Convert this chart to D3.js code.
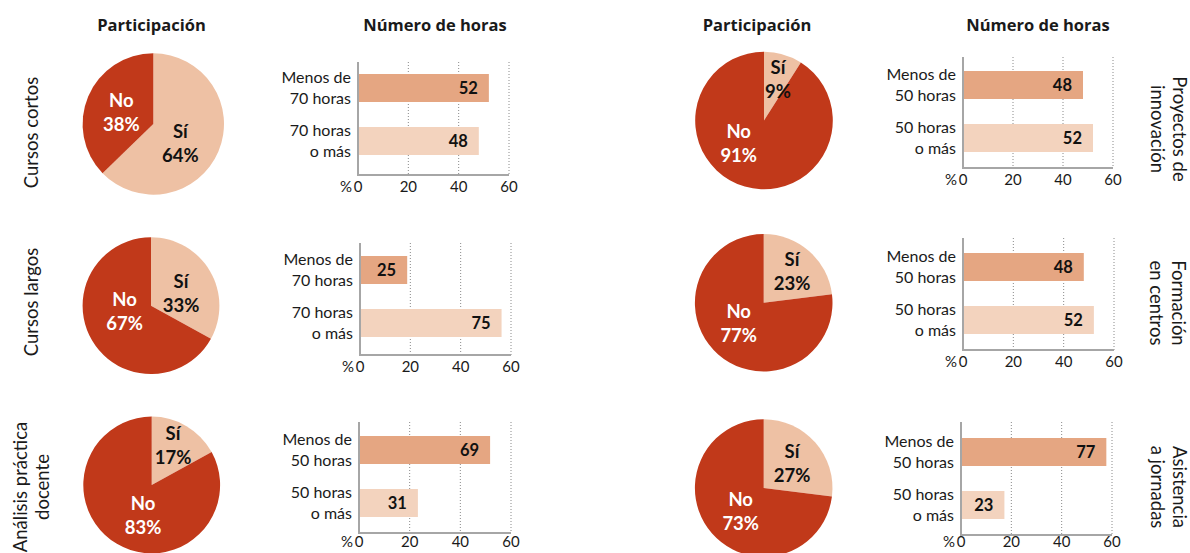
<!DOCTYPE html>
<html>
<head>
<meta charset="utf-8">
<script src="https://cdn.jsdelivr.net/npm/d3@7"></script>
<style>
  html, body { margin: 0; padding: 0; background: #fff; }
  svg { display: block; }
  text { font-family: Lato, "Open Sans", sans-serif; }
</style>
</head>
<body>
<svg id="chart" width="1190" height="553"></svg>
<script>
// ---------------- DATA ----------------
const columnTitles = ["Participación", "Número de horas"];
const rowLabels = [
  ["Cursos cortos"],
  ["Cursos largos"],
  ["Análisis práctica", "docente"],
  ["Proyectos de", "innovación"],
  ["Formación", "en centros"],
  ["Asistencia", "a jornadas"]
];
const siPct = [64, 33, 17, 9, 23, 27];
const noPct = [38, 67, 83, 91, 77, 73];
const hourCats = [
  [["Menos de", "70 horas"], ["70 horas", "o más"]],
  [["Menos de", "70 horas"], ["70 horas", "o más"]],
  [["Menos de", "50 horas"], ["50 horas", "o más"]],
  [["Menos de", "50 horas"], ["50 horas", "o más"]],
  [["Menos de", "50 horas"], ["50 horas", "o más"]],
  [["Menos de", "50 horas"], ["50 horas", "o más"]]
];
const lessHours = [52, 25, 69, 48, 48, 77];
const moreHours = [48, 75, 31, 52, 52, 23];
const xTicks = [0, 20, 40, 60];

// ---------------- LAYOUT ----------------
const pieLayout = [
  {cx: 153.3, cy: 124, r: 70.7},
  {cx: 151, cy: 305.7, r: 68.4},
  {cx: 151.7, cy: 485, r: 68.4},
  {cx: 764, cy: 120.5, r: 68.8},
  {cx: 763.7, cy: 302.8, r: 68.8},
  {cx: 763.7, cy: 488, r: 68.8}
];
// label centres relative to the pie centre: [Sí, No]
const pieLabelOffsets = [
  [[27, 19.3], [-32, -12]],
  [[30, -12.5], [-26.5, 6]],
  [[21.3, -39.2], [-8.7, 30.8]],
  [[14, -41.3], [-25.3, 23.3]],
  [[28.3, -31.3], [-25, 21]],
  [[28.3, -24.7], [-23, 23.7]]
];
// bar panels; domainMax = value that reaches the axis end (labelled 60) as drawn in the picture
const barLayout = [
  {x0: 358, x60: 509, top: 62, bottom: 175, bar1: 74, domainMax: 60},
  {x0: 360, x60: 511, top: 243, bottom: 355, bar1: 256, domainMax: 80},
  {x0: 359, x60: 511, top: 422, bottom: 533, bar1: 436, domainMax: 80},
  {x0: 963, x60: 1113, top: 57, bottom: 168, bar1: 71, domainMax: 60},
  {x0: 963, x60: 1114, top: 238, bottom: 350, bar1: 253, domainMax: 60},
  {x0: 961, x60: 1112, top: 422, bottom: 535, bar1: 438, domainMax: 80}
];
const rowLabelLayout = [
  {y: 132.5, xs: [38], rot: -90},
  {y: 302, xs: [38], rot: -90},
  {y: 487, xs: [27, 49], rot: -90},
  {y: 129, xs: [1173, 1151], rot: 90},
  {y: 303, xs: [1172, 1150], rot: 90},
  {y: 487, xs: [1173, 1151], rot: 90}
];
const titleLayout = [
  {x: 151.5, y: 31, t: 0}, {x: 435, y: 31, t: 1},
  {x: 757, y: 31, t: 0}, {x: 1038, y: 31, t: 1}
];

const colors = {
  no: "#c1391a",
  si: "#eec1a4",
  less: "#e5a682",
  more: "#f3d3be",
  axis: "#a6a6a6",
  grid: "#8a8a8a",
  text: "#1a1a1a"
};

const svg = d3.select("#chart");

// titles
svg.selectAll("text.title").data(titleLayout).join("text")
  .attr("class", "title")
  .attr("x", d => d.x).attr("y", d => d.y)
  .attr("text-anchor", "middle")
  .style("font-family", "'Open Sans', Lato, sans-serif")
  .attr("font-weight", 700)
  .attr("font-size", 16.5)
  .attr("fill", colors.text)
  .text(d => columnTitles[d.t]);

// row labels
rowLabelLayout.forEach((L, i) => {
  rowLabels[i].forEach((line, j) => {
    svg.append("text")
      .attr("transform", `translate(${L.xs[j]},${L.y}) rotate(${L.rot})`)
      .attr("text-anchor", "middle")
      .attr("font-size", 18.5)
      .attr("fill", colors.text)
      .text(line);
  });
});

// pies
const pie = d3.pie().sort(null).value(d => d.v);
pieLayout.forEach((P, i) => {
  const g = svg.append("g").attr("transform", `translate(${P.cx},${P.cy})`);
  const arc = d3.arc().innerRadius(0).outerRadius(P.r);
  const slices = pie([
    {k: "Sí", v: siPct[i], fill: colors.si, tc: "#111"},
    {k: "No", v: noPct[i], fill: colors.no, tc: "#fff"}
  ]);
  g.selectAll("path").data(slices).join("path")
    .attr("d", arc)
    .attr("fill", d => d.data.fill);
  slices.forEach((s, j) => {
    const off = pieLabelOffsets[i][j];
    const lines = [s.data.k, s.data.v + "%"];
    lines.forEach((ln, m) => {
      g.append("text")
        .attr("x", off[0])
        .attr("y", off[1] + (m === 0 ? -12 : 12) + 6.5)
        .attr("text-anchor", "middle")
        .attr("font-weight", 700)
        .attr("font-size", 18.5)
        .attr("fill", s.data.tc)
        .text(ln);
    });
  });
});

// bar panels
barLayout.forEach((B, i) => {
  const g = svg.append("g");
  const axisX = d3.scaleLinear().domain([0, 60]).range([B.x0, B.x60]);
  const barX = d3.scaleLinear().domain([0, B.domainMax]).range([B.x0, B.x60]);
  const cats = ["less", "more"];
  const step = 53, pIn = 25 / 53, pOut = 0.1;
  const y0 = B.bar1 - pOut * step;
  const y = d3.scaleBand().domain(cats)
    .range([y0, y0 + step * (cats.length - pIn + 2 * pOut)])
    .paddingInner(pIn).paddingOuter(pOut);
  const vals = [lessHours[i], moreHours[i]];
  const rows = cats.map((c, k) => ({c, v: vals[k], lines: hourCats[i][k]}));

  // grid lines
  g.selectAll("line.grid").data(xTicks.filter(t => t > 0)).join("line")
    .attr("x1", d => axisX(d)).attr("x2", d => axisX(d))
    .attr("y1", B.top).attr("y2", B.bottom)
    .attr("stroke", colors.grid).attr("stroke-width", 1)
    .attr("stroke-dasharray", "1,2");

  // bars
  g.selectAll("rect").data(rows).join("rect")
    .attr("x", barX(0))
    .attr("y", d => y(d.c))
    .attr("width", d => barX(d.v) - barX(0))
    .attr("height", y.bandwidth())
    .attr("fill", d => d.c === "less" ? colors.less : colors.more);

  // axis lines
  g.append("line").attr("x1", B.x0).attr("x2", B.x0)
    .attr("y1", B.top).attr("y2", B.bottom + 1)
    .attr("stroke", colors.axis).attr("stroke-width", 2);
  g.append("line").attr("x1", B.x0 - 1).attr("x2", B.x60)
    .attr("y1", B.bottom).attr("y2", B.bottom)
    .attr("stroke", colors.axis).attr("stroke-width", 2);

  // value labels
  g.selectAll("text.val").data(rows).join("text")
    .attr("class", "val")
    .attr("x", d => barX(d.v) - 11)
    .attr("y", d => y(d.c) + y.bandwidth() / 2 + 5.5)
    .attr("text-anchor", "end")
    .attr("font-weight", 700)
    .attr("font-size", 16.5)
    .attr("fill", "#111")
    .text(d => d.v);

  // category labels
  rows.forEach(r => {
    const cy = y(r.c) + y.bandwidth() / 2;
    r.lines.forEach((ln, m) => {
      g.append("text")
        .attr("x", B.x0 - 7)
        .attr("y", cy + (m === 0 ? -10.5 : 10.5) + 5.8)
        .attr("text-anchor", "end")
        .attr("font-size", 16)
        .attr("fill", colors.text)
        .text(ln);
    });
  });

  // tick labels
  const tickY = Math.min(B.bottom + 17, 547);
  g.selectAll("text.tick").data(xTicks).join("text")
    .attr("class", "tick")
    .attr("x", d => axisX(d))
    .attr("y", tickY)
    .attr("text-anchor", "middle")
    .attr("font-size", 15)
    .attr("fill", colors.text)
    .text(d => d);
  g.append("text")
    .attr("x", B.x0 - 6)
    .attr("y", tickY)
    .attr("text-anchor", "end")
    .attr("font-size", 15)
    .attr("fill", colors.text)
    .text("%");
});
</script>
</body>
</html>
